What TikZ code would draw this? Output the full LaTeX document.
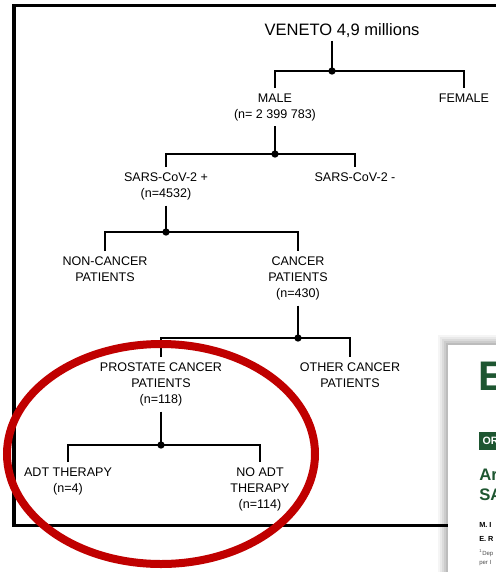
\documentclass[tikz,border=0pt]{standalone}
\usepackage{fontspec}
\setmainfont{Liberation Sans}
\usetikzlibrary{positioning}

\definecolor{ringred}{HTML}{C00000}
\definecolor{journalgreen}{HTML}{1E5631}

\tikzset{
  lbl/.style={align=center, anchor=north, inner xsep=0pt, inner ysep=4pt,
              font=\fontsize{9.4}{12}\selectfont},
  branch/.style={line width=1.5pt},
  knot/.style={circle, fill=black, inner sep=0pt, minimum size=5.5pt},
}

\begin{document}
\begin{tikzpicture}[x=0.75pt, y=-0.75pt]
\useasboundingbox (0,0) rectangle (496,572);
\clip (0,0) rectangle (496,572);

% Frame
\draw[line width=2.4pt] (520,5.5) -- (14,5.5) -- (14,525.5) -- (520,525.5);

% Root
\node[inner sep=2pt, font=\fontsize{12.4}{15}\selectfont] (veneto) at (342,31) {VENETO 4,9 millions};

% Sex
\coordinate (j0) at (332,71);
\node[lbl] (male) at (275,88) {MALE\\(n= 2 399 783)};
\node[lbl] (female) at (464,88) {FEMALE};

% Infection
\coordinate (j1) at (male.south |- 0,154);
\node[lbl] (sarsp) at (166,167) {SARS-CoV-2 +\\(n=4532)};
\node[lbl] (sarsn) at (355,167) {SARS-CoV-2 -};

% Cancer
\coordinate (j2) at (sarsp.south |- 0,232);
\node[lbl] (noncancer) at (105,251) {NON-CANCER\\PATIENTS};
\node[lbl] (cancer) at (298,251) {CANCER\\PATIENTS\\(n=430)};

% Cancer type
\coordinate (j3) at (cancer.south |- 0,338);
\node[lbl] (prostate) at (161,357) {PROSTATE CANCER\\PATIENTS\\(n=118)};
\node[lbl] (other) at (350,357) {OTHER CANCER\\PATIENTS};

% Therapy
\coordinate (j4) at (prostate.south |- 0,445);
\node[lbl] (adt) at (68,462) {ADT THERAPY\\(n=4)};
\node[lbl] (noadt) at (260,462) {NO ADT\\THERAPY\\(n=114)};

% Branches
\draw[branch] (j0 |- veneto.south) -- (j0);
\draw[branch] (male.north) |- (j0) -| (female.north);
\draw[branch] (male.south) -- (j1);
\draw[branch] (sarsp.north) |- (j1) -| (sarsn.north);
\draw[branch] (sarsp.south) -- (j2);
\draw[branch] (noncancer.north) |- (j2) -| (cancer.north);
\draw[branch] (cancer.south) -- (j3);
\draw[branch] (prostate.north) |- (j3) -| (other.north);
\draw[branch] (prostate.south) -- (j4);
\draw[branch] (adt.north) |- (j4) -| (noadt.north);

\foreach \j in {j0,j1,j2,j3,j4} {
    \node[knot] at (\j) {};
}

% Red ring
\draw[ringred, line width=6pt] (161,454) ellipse [x radius=154, y radius=110];

% Article page on top
\foreach \s/\o in {10/0.04, 8/0.05, 6/0.06, 4/0.07, 2/0.08} {
    \fill[black, opacity=\o] (448-\s,345-\s) rectangle (520,590);
}
\fill[white] (448,345) rectangle (520,590);
\node[anchor=north west, inner sep=0pt, text=journalgreen,
      font=\fontsize{31}{31}\bfseries] (logo) at (478,362) {E};
\node[anchor=west, fill=journalgreen, text=white, inner xsep=2.5pt, inner ysep=0pt,
      minimum height=13pt, font=\fontsize{8}{8}\bfseries] (kind) at (479,441) {OR};
\node[anchor=west, inner sep=0pt, text=journalgreen,
      font=\fontsize{12.5}{12.5}\bfseries] (title1) at (479,475) {Ar};
\node[anchor=west, inner sep=0pt, text=journalgreen,
      font=\fontsize{12.5}{12.5}\bfseries] (title2) at (479,495) {SA};
\node[anchor=west, inner sep=0pt, font=\fontsize{5.5}{5.5}\bfseries] (auth1) at (479,525) {M. I};
\node[anchor=west, inner sep=0pt, font=\fontsize{5.5}{5.5}\bfseries] (auth2) at (479,539) {E. R};
\node[anchor=west, inner sep=0pt, text=black!70, font=\fontsize{4.5}{4.5}\selectfont] (aff1) at (479,553) {\textsuperscript{1}Dep};
\node[anchor=west, inner sep=0pt, text=black!70, font=\fontsize{4.5}{4.5}\selectfont] (aff2) at (479,563) {per I};
\end{tikzpicture}
\end{document}
